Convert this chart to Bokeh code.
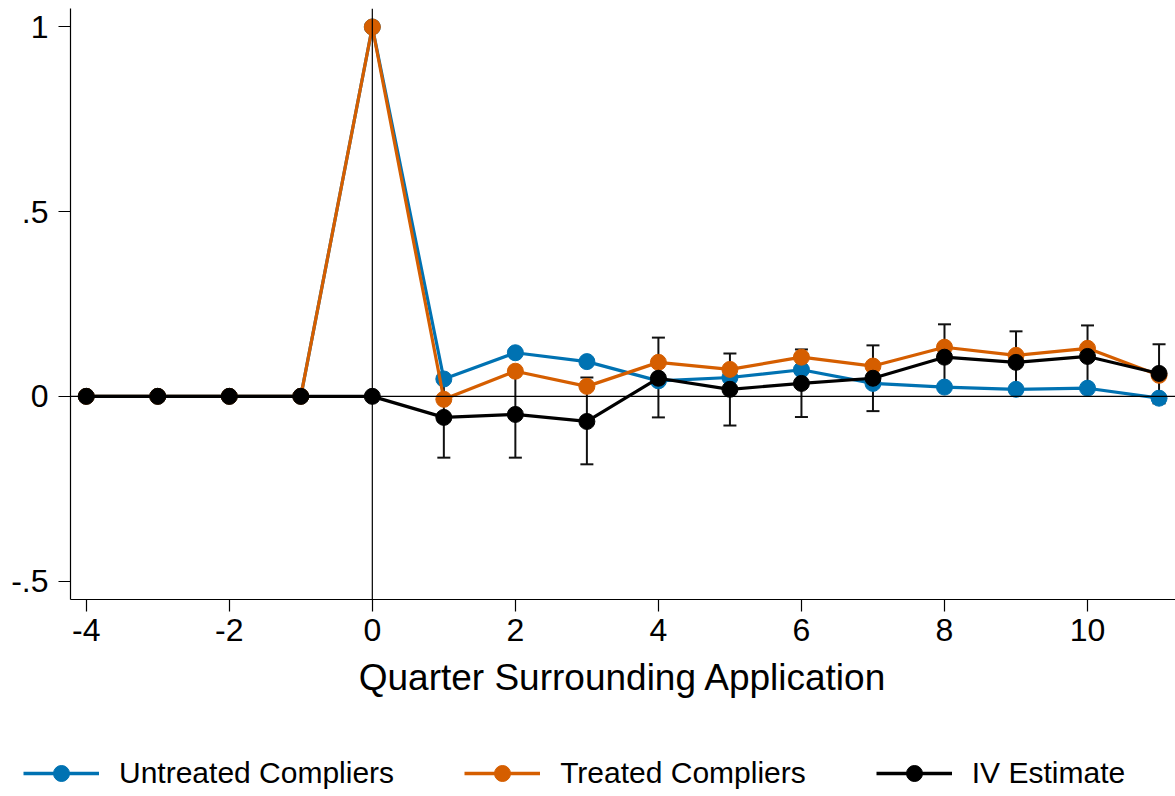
from bokeh.plotting import figure
from bokeh.layouts import column, row
from bokeh.models import ColumnDataSource, Span, Whisker, TeeHead, Legend, LegendItem, Range1d, FixedTicker, CustomJSTickFormatter
from bokeh.embed import file_html
from bokeh.resources import INLINE

quarters = [-4, -3, -2, -1, 0, 1, 2, 3, 4, 5, 6, 7, 8, 9, 10, 11]
untreated = [0, 0, 0, 0, 1, 0.047, 0.118, 0.094, 0.042, 0.051, 0.072, 0.035, 0.025, 0.019, 0.022, -0.005]
treated = [0, 0, 0, 0, 1, -0.008, 0.068, 0.027, 0.092, 0.073, 0.106, 0.082, 0.133, 0.111, 0.130, 0.057]
iv = [0, 0, 0, 0, 0, -0.057, -0.049, -0.068, 0.049, 0.019, 0.035, 0.049, 0.106, 0.092, 0.108, 0.062]
ci_x = [1, 2, 3, 4, 5, 6, 7, 8, 9, 10, 11]
ci_lo = [-0.166, -0.166, -0.184, -0.057, -0.079, -0.056, -0.040, 0.025, 0.009, 0.025, -0.019]
ci_hi = [0.051, 0.068, 0.051, 0.159, 0.116, 0.127, 0.138, 0.195, 0.176, 0.192, 0.141]
x_ticks = [-4, -2, 0, 2, 4, 6, 8, 10]
y_ticks = [-0.5, 0, 0.5, 1]
series_names = ["Untreated Compliers", "Treated Compliers", "IV Estimate"]

FONT = "Liberation Sans"
BLUE = "#0072B2"
ORANGE = "#D55E00"
BLACK = "#000000"
COLORS = [BLUE, ORANGE, BLACK]

p = figure(frame_width=1105, frame_height=591, output_backend="svg", toolbar_location=None,
           x_range=Range1d(-4.22, 11.23), y_range=Range1d(-0.55, 1.05),
           min_border_left=70, min_border_right=0, min_border_top=8, min_border_bottom=112)
p.outline_line_color = None
p.xgrid.visible = False
p.ygrid.visible = False
p.background_fill_color = "white"
p.border_fill_color = "white"

p.add_layout(Span(location=0, dimension="width", line_color="black", line_width=1.2))
p.add_layout(Span(location=0, dimension="height", line_color="black", line_width=1.2))

src = ColumnDataSource(dict(x=quarters, u=untreated, t=treated, iv=iv))
for col, c in zip(["u", "t", "iv"], COLORS):
    p.line("x", col, source=src, line_color=c, line_width=3.2)
    p.scatter("x", col, source=src, size=16, fill_color=c, line_color=c)

csrc = ColumnDataSource(dict(x=ci_x, lo=ci_lo, hi=ci_hi))
w = Whisker(base="x", lower="lo", upper="hi", source=csrc, line_color="#111111", line_width=2,
            upper_head=TeeHead(size=13, line_color="#111111", line_width=2),
            lower_head=TeeHead(size=13, line_color="#111111", line_width=2))
p.add_layout(w)

fmt = CustomJSTickFormatter(code="""
if (tick == 0) { return "0"; }
var s = tick.toString();
return s.replace("0.", ".");
""")
p.xaxis.ticker = FixedTicker(ticks=x_ticks)
p.yaxis.ticker = FixedTicker(ticks=y_ticks)
p.xaxis.formatter = fmt
p.yaxis.formatter = fmt
for ax in (p.xaxis[0], p.yaxis[0]):
    ax.axis_line_color = "black"
    ax.axis_line_width = 1.2
    ax.major_tick_line_color = "black"
    ax.major_tick_line_width = 1.2
    ax.major_tick_out = 12
    ax.major_tick_in = 0
    ax.minor_tick_out = 0
    ax.minor_tick_in = 0
    ax.major_label_text_font = FONT
    ax.major_label_text_font_size = "32px"
    ax.major_label_text_color = "black"
p.yaxis.major_label_orientation = "horizontal"
p.yaxis.major_label_standoff = 10
p.xaxis.major_label_standoff = 7
p.xaxis.axis_label = "Quarter Surrounding Application"
p.xaxis.axis_label_text_font = FONT
p.xaxis.axis_label_text_font_size = "37px"
p.xaxis.axis_label_text_font_style = "normal"
p.xaxis.axis_label_text_color = "black"
p.xaxis.axis_label_standoff = 13

# legend strip below the chart (key glyphs reuse the series' first point, kept outside the strip's view)
lg = figure(width=1175, height=85, output_backend="svg", toolbar_location=None,
            x_axis_type=None, y_axis_type=None, x_range=Range1d(100, 101), y_range=Range1d(100, 101),
            min_border=0)
lg.outline_line_color = None
lg.xgrid.visible = False
lg.ygrid.visible = False
items = []
for name, c, ys in zip(series_names, COLORS, [untreated, treated, iv]):
    key_src = ColumnDataSource(dict(x=[quarters[0]], y=[ys[0]]))
    r1 = lg.line("x", "y", source=key_src, line_color=c, line_width=3.5)
    r2 = lg.scatter("x", "y", source=key_src, size=16, fill_color=c, line_color=c)
    items.append(LegendItem(label=name, renderers=[r1, r2]))
legend = Legend(items=items, orientation="horizontal", location=(23, 3))
legend.label_text_font = FONT
legend.label_text_font_size = "30px"
legend.label_text_color = "black"
legend.glyph_width = 76
legend.glyph_height = 40
legend.label_standoff = 20
legend.spacing = 70
legend.border_line_color = None
legend.background_fill_alpha = 0
legend.margin = 0
legend.padding = 0
lg.add_layout(legend, "center")

open("out.html", "w").write(file_html(column(p, row(lg), spacing=0), INLINE))
